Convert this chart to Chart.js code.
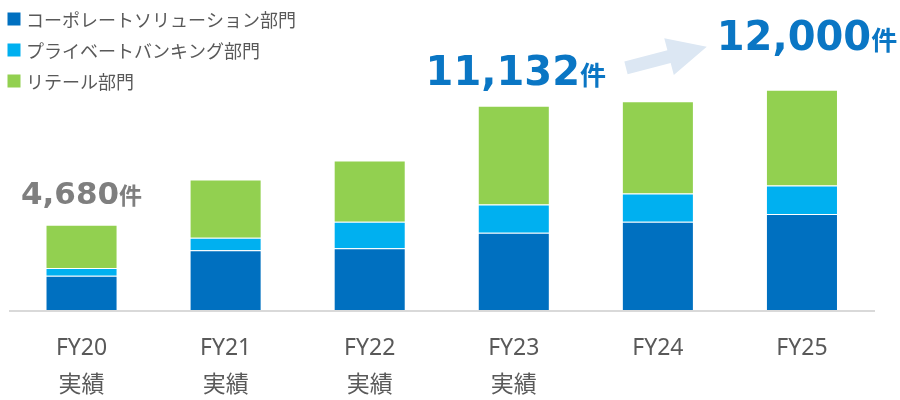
<!DOCTYPE html>
<html lang="ja">
<head>
<meta charset="utf-8">
<title>部門別件数</title>
<script src="https://cdn.jsdelivr.net/npm/chart.js@4.4.1/dist/chart.umd.min.js"></script>
<style>
  html, body { margin: 0; padding: 0; background: #fff; }
  #wrap { position: relative; width: 900px; height: 400px; }
</style>
</head>
<body>
<div id="wrap"><canvas id="chart"></canvas></div>
<script>
// Datos (件)
const YEARS = ['FY20', 'FY21', 'FY22', 'FY23', 'FY24', 'FY25'];
const SUBLABELS = ['実績', '実績', '実績', '実績', '', ''];
const SERIES_NAMES = ['コーポレートソリューション部門', 'プライベートバンキング部門', 'リテール部門'];
const CORPORATE = [1910, 3290, 3400, 4240, 4840, 5270];
const PRIVATE_BANKING = [430, 680, 1440, 1540, 1540, 1540];
const RETAIL = [2340, 3170, 3330, 5352, 5000, 5190];
const CALLOUT_INDEX = [0, 3, 5];
const UNIT = '件';

const AZUL = '#0070C0';
const CELESTE = '#00B0F0';
const VERDE = '#92D050';
const AZUL_TEXTO = '#0A76C4';
const GRIS = '#7F7F7F';
const GRIS_TEXTO = '#595959';
const FLECHA = '#DCE7F3';

const totals = YEARS.map((_, i) => CORPORATE[i] + PRIVATE_BANKING[i] + RETAIL[i]);

// leyenda vertical arriba a la izquierda
const legendCol = {
  id: 'legendCol',
  afterDraw(chart) {
    const { ctx } = chart;
    ctx.save();
    ctx.font = '18px "Noto Sans CJK JP"';
    ctx.textBaseline = 'middle';
    chart.data.datasets.forEach((ds, i) => {
      const cy = 19 + i * 31;
      ctx.fillStyle = ds.backgroundColor;
      ctx.fillRect(7.5, cy - 6.5, 13, 13);
      ctx.fillStyle = GRIS_TEXTO;
      ctx.fillText(ds.label, 26, cy + 1);
    });
    ctx.restore();
  },
};

// totales destacados + flecha
const callouts = {
  id: 'callouts',
  afterDatasetsDraw(chart) {
    const { ctx, scales: { x, y } } = chart;
    const estilos = [
      { color: GRIS, num: 31, unit: 23, gap: 21, dx: 0 },
      { color: AZUL_TEXTO, num: 40, unit: 26, gap: 21, dx: 2 },
      { color: AZUL_TEXTO, num: 40, unit: 26, gap: 40, dx: 5 },
    ];
    const cajas = [];
    ctx.save();
    ctx.textBaseline = 'alphabetic';
    ctx.textAlign = 'left';
    CALLOUT_INDEX.forEach((idx, k) => {
      const s = estilos[k];
      const num = totals[idx].toLocaleString('en-US');
      ctx.font = `bold ${s.num}px "DejaVu Sans"`;
      const wNum = ctx.measureText(num).width;
      ctx.font = `bold ${s.unit}px "Noto Sans CJK JP"`;
      const wUnit = ctx.measureText(UNIT).width;
      const left = x.getPixelForValue(idx) - (wNum + wUnit) / 2 + s.dx;
      const base = y.getPixelForValue(totals[idx]) - s.gap;
      ctx.fillStyle = s.color;
      ctx.font = `bold ${s.num}px "DejaVu Sans"`;
      ctx.fillText(num, left, base);
      ctx.font = `bold ${s.unit}px "Noto Sans CJK JP"`;
      ctx.fillText(UNIT, left + wNum, base);
      cajas.push({ left, right: left + wNum + wUnit, base });
    });

    const tail = { x: cajas[1].right + 20, y: cajas[1].base - 17 };
    const tip = { x: cajas[2].left - 10, y: cajas[2].base - 3 };
    const ang = Math.atan2(tip.y - tail.y, tip.x - tail.x);
    const len = Math.hypot(tip.x - tail.x, tip.y - tail.y);
    const headLen = 39;
    const shaft = 6.5;
    const head = 19;
    ctx.translate(tail.x, tail.y);
    ctx.rotate(ang);
    ctx.fillStyle = FLECHA;
    ctx.beginPath();
    ctx.moveTo(0, -shaft);
    ctx.lineTo(len - headLen, -shaft);
    ctx.lineTo(len - headLen, -head);
    ctx.lineTo(len, 0);
    ctx.lineTo(len - headLen, head);
    ctx.lineTo(len - headLen, shaft);
    ctx.lineTo(0, shaft);
    ctx.closePath();
    ctx.fill();
    ctx.restore();
  },
};

const labels = YEARS.map((yr, i) => (SUBLABELS[i] ? [yr, SUBLABELS[i]] : [yr]));

new Chart(document.getElementById('chart'), {
  type: 'bar',
  data: {
    labels,
    datasets: [
      { label: SERIES_NAMES[0], data: CORPORATE, backgroundColor: AZUL },
      { label: SERIES_NAMES[1], data: PRIVATE_BANKING, backgroundColor: CELESTE },
      { label: SERIES_NAMES[2], data: RETAIL, backgroundColor: VERDE },
    ],
  },
  options: {
    responsive: true,
    maintainAspectRatio: false,
    animation: false,
    layout: { padding: { top: 53, left: 9.5, right: 26, bottom: 0 } },
    datasets: {
      bar: {
        categoryPercentage: 1,
        barPercentage: 0.5,
        borderWidth: 1,
        borderColor: 'rgba(255,255,255,0.45)',
      },
    },
    plugins: { legend: { display: false }, tooltip: { enabled: false } },
    scales: {
      x: {
        stacked: true,
        grid: { display: false, drawTicks: false },
        border: { color: '#D9D9D9', width: 2, z: 1 },
        ticks: {
          padding: 18.5,
          color: GRIS_TEXTO,
          maxRotation: 0,
          autoSkip: false,
          font: { family: '"Noto Sans", "Noto Sans CJK JP", sans-serif', size: 23, lineHeight: '37px' },
        },
        afterFit(scale) { scale.height = 89; },
      },
      y: {
        stacked: true,
        display: false,
        min: 0,
        max: 14000,
      },
    },
  },
  plugins: [legendCol, callouts],
});
</script>
</body>
</html>
